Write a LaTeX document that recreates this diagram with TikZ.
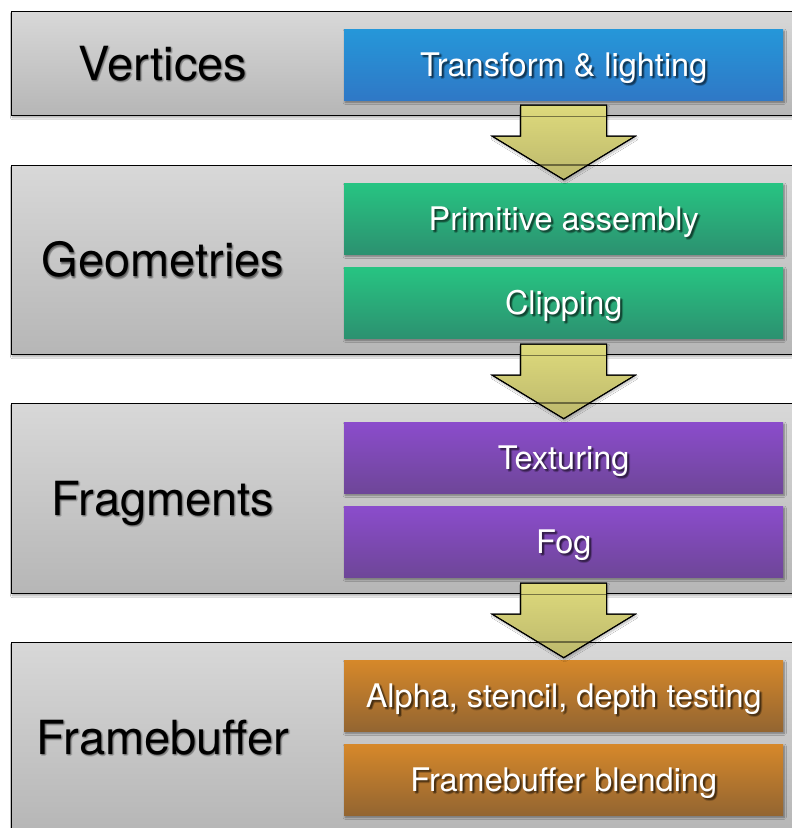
\documentclass[tikz,border=0pt]{standalone}
\usepackage{fontspec}
\setmainfont{TeX Gyre Heros}
\usetikzlibrary{shadows.blur}

\definecolor{stgtop}{HTML}{D8D8D8}
\definecolor{stgbot}{HTML}{B6B6B6}
\definecolor{bluetop}{HTML}{2597D9}
\definecolor{bluebot}{HTML}{2F78C6}
\definecolor{greentop}{HTML}{27C482}
\definecolor{greenbot}{HTML}{2C9170}
\definecolor{purptop}{HTML}{8B4CCC}
\definecolor{purpbot}{HTML}{6E4698}
\definecolor{orngtop}{HTML}{D6882A}
\definecolor{orngbot}{HTML}{936531}
\definecolor{arrtop}{HTML}{DEDA7C}
\definecolor{arrbot}{HTML}{BCB86C}

\tikzset{
  stagebox/.style={draw=black, line width=1.2pt, top color=stgtop, bottom color=stgbot,
    anchor=north west, inner sep=0pt, minimum width=789pt,
    blur shadow={shadow xshift=1pt, shadow yshift=-2pt, shadow blur steps=10, shadow blur extra rounding=0pt, shadow opacity=35}},
  opbox/.style={anchor=north west, inner sep=0pt, minimum width=439pt, minimum height=71pt,
    blur shadow={shadow xshift=1pt, shadow yshift=-2pt, shadow blur steps=8, shadow opacity=45}},
  stagetext/.style={anchor=base, inner sep=0pt, font=\fontsize{47}{47}\selectfont},
  optext/.style={anchor=base, inner sep=0pt, text=white, font=\fontsize{32.5}{32.5}\selectfont},
  txtshadow/.style={text=black, opacity=0.16},
  flowarrow/.style={draw=black, line width=1pt, top color=arrtop, bottom color=arrbot,
    blur shadow={shadow xshift=1pt, shadow yshift=-2pt, shadow blur steps=8, shadow opacity=30}},
  seethrough/.style={draw=black, line width=1.2pt, draw opacity=0.45}
}

% a stage title with a soft dark shadow
\newcommand\stagetitle[3]{%
  \foreach \dx/\dy in {0/1.5,2/1.5,1/0.5,1/2.5}
    \node[stagetext, txtshadow, xshift=\dx pt, yshift=-\dy pt] at (#2) {#3};
  \node[stagetext] (#1) at (#2) {#3};}

% an operation box: coloured bar with a shadowed white caption
\newcommand\opbar[6]{%
  \node[opbox, top color=#3, bottom color=#4] (#1) at (#2) {};
  \foreach \dx/\dy in {1.5/2.5,3/2.5,2/1.5,2/3.5}
    \node[optext, txtshadow, opacity=0.2, xshift=\dx pt, yshift=-\dy pt] at ([yshift=-#5]#1.center) {#6};
  \node[optext] (#1-t) at ([yshift=-#5]#1.center) {#6};}

% the down arrow between two stages, hung from its top centre;
% the stage borders it crosses stay faintly visible through it
\newcommand\arrowpath[1]{(#1) ++(-43,0) -- ++(86,0) -- ++(0,31) -- ++(28.5,0)
     -- ++(-71.5,43.5) -- ++(-71.5,-43.5) -- ++(28.5,0) -- cycle}
\newcommand\stagearrow[3]{%
  \path[flowarrow] \arrowpath{#1};
  \begin{scope}
    \clip \arrowpath{#1};
    \draw[seethrough] (#2.south west) -- (#2.south east);
    \draw[seethrough] (#3.north west) -- (#3.north east);
  \end{scope}
  \draw[line width=1pt] \arrowpath{#1};}

\begin{document}
\begin{tikzpicture}[x=1pt,y=-1pt]
\useasboundingbox (0,0) rectangle (792,828);
\clip (0,0) rectangle (792,828);
\fill[white] (0,0) rectangle (792,828);

% pipeline stages
\node[stagebox, minimum height=104pt] (vert) at (11,11) {};
\node[stagebox, minimum height=189pt] (geom) at (11,165) {};
\node[stagebox, minimum height=190pt] (frag) at (11,403) {};
\node[stagebox, minimum height=189pt] (fbuf) at (11,642) {};

\stagetitle{vertL}{163,80}{Vertices}
\stagetitle{geomL}{163,276.5}{Geometries}
\stagetitle{fragL}{163,515}{Fragments}
\stagetitle{fbufL}{163,754}{Framebuffer}

% operations in each stage
\opbar{tl}{344,29}{bluetop}{bluebot}{11.5pt}{Transform \& lighting}
\opbar{pa}{344,183}{greentop}{greenbot}{11.5pt}{Primitive assembly}
\opbar{cl}{344,267}{greentop}{greenbot}{11.5pt}{Clipping}
\opbar{tx}{344,422}{purptop}{purpbot}{11.5pt}{Texturing}
\opbar{fg}{344,506}{purptop}{purpbot}{11.5pt}{Fog}
\opbar{as}{344,660}{orngtop}{orngbot}{11.5pt}{Alpha, stencil, depth testing}
\opbar{fb}{344,744}{orngtop}{orngbot}{11.5pt}{Framebuffer blending}

% flow between stages
\path (vert.south -| tl.center) ++(0,-11) coordinate (a1);
\path (geom.south -| cl.center) ++(0,-11) coordinate (a2);
\path (frag.south -| fg.center) ++(0,-11) coordinate (a3);
\stagearrow{a1}{vert}{geom}
\stagearrow{a2}{geom}{frag}
\stagearrow{a3}{frag}{fbuf}
\end{tikzpicture}
\end{document}
